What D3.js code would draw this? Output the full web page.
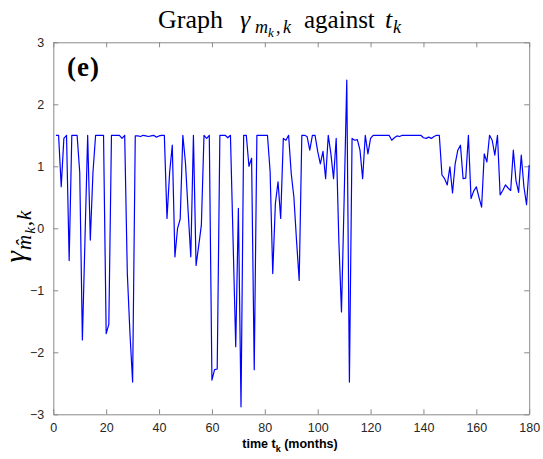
<!DOCTYPE html>
<html>
<head>
<meta charset="utf-8">
<script src="https://cdn.jsdelivr.net/npm/d3@7"></script>
<style>
  body { margin: 0; background: #fff; }
  .axis text { font-family: "Liberation Sans", Arial, sans-serif; font-size: 12.5px; fill: #262626; }
  .axis path, .axis line { stroke: #8a8a8a; }
</style>
</head>
<body>
<svg width="543" height="459"></svg>
<script>
// gamma_{m_k,k} for months t = 1..180
var gamma = [
  1.5, 1.5, 0.67, 1.45, 1.5, -0.52, 1.5, 1.5, 1.5, 0.9,
  -1.8, -0.15, 1.5, -0.19, 0.9, 1.5, 1.5, 1.5, 1.5, -1.7,
  -1.55, 1.5, 1.5, 1.5, 1.5, 1.45, 1.5, -0.73, -1.7, -2.48,
  1.49, 1.49, 1.48, 1.5, 1.49, 1.48, 1.49, 1.5, 1.47, 1.49,
  1.5, 1.5, 0.16, 0.9, 1.34, -0.46, 0.0, 0.15, 1.5, 1.05,
  0.27, -0.46, 1.5, -0.6, -0.28, 0.05, 1.5, 1.45, 1.5, -2.45,
  -2.28, -2.27, 1.5, 1.5, 1.5, 1.46, 1.5, -0.2, -1.91, 0.32,
  -2.88, 1.5, 1.5, 1.0, 1.13, -2.28, 1.5, 1.5, 1.5, 1.5,
  1.5, 0.92, -0.73, 0.4, 0.75, 0.16, 1.45, 1.42, 1.5, 0.88,
  0.5, -0.2, -0.84, 1.5, 1.5, 1.48, 1.26, 1.5, 1.5, 1.24,
  1.04, 1.24, 0.8, 1.5, 1.2, 0.8, 1.45, -0.2, -1.35, 0.46,
  2.39, -2.48, 1.45, 1.42, 1.43, 1.26, 0.8, 1.5, 1.2, 1.45,
  1.5, 1.5, 1.5, 1.5, 1.5, 1.5, 1.5, 1.42, 1.46, 1.49,
  1.48, 1.5, 1.5, 1.5, 1.5, 1.5, 1.5, 1.5, 1.5, 1.46,
  1.45, 1.47, 1.45, 1.48, 1.5, 1.5, 0.86, 0.8, 0.7, 0.99,
  0.57, 1.04, 1.26, 1.34, 0.8, 0.81, 1.5, 0.48, 0.6, 0.67,
  0.5, 0.34, 1.2, 1.07, 1.5, 1.42, 1.18, 1.5, 0.54, 0.61,
  0.7, 0.65, 0.61, 1.26, 0.77, 0.58, 1.18, 0.67, 0.38, 1.02
];
var months = gamma.map(function(d, i) { return i + 1; });
var xTicks = [0, 20, 40, 60, 80, 100, 120, 140, 160, 180];
var yTicks = [-3, -2, -1, 0, 1, 2, 3];

var svg = d3.select("svg");
var mLeft = 53.3, mRight = 529.2, mTop = 42.3, mBottom = 414.3;

var x = d3.scaleLinear().domain([0, 180]).range([mLeft, mRight]);
var y = d3.scaleLinear().domain([-3, 3]).range([mBottom, mTop]);

// axes, MATLAB style: ticks inward on all four sides
svg.append("g").attr("class", "axis")
    .attr("transform", "translate(0," + mBottom + ")")
    .call(d3.axisBottom(x).tickValues(xTicks).tickSizeInner(-5).tickSizeOuter(0).tickPadding(9));
svg.append("g").attr("class", "axis")
    .attr("transform", "translate(0," + mTop + ")")
    .call(d3.axisTop(x).tickValues(xTicks).tickSizeInner(-5).tickSizeOuter(0).tickFormat(""));
svg.append("g").attr("class", "axis")
    .attr("transform", "translate(" + mLeft + ",0)")
    .call(d3.axisLeft(y).tickValues(yTicks).tickFormat(d3.format("d")).tickSizeInner(-5).tickSizeOuter(0).tickPadding(9));
svg.append("g").attr("class", "axis")
    .attr("transform", "translate(" + mRight + ",0)")
    .call(d3.axisRight(y).tickValues(yTicks).tickSizeInner(-5).tickSizeOuter(0).tickFormat(""));

var line = d3.line()
    .x(function(d, i) { return x(months[i]); })
    .y(function(d) { return y(d); });

svg.append("path")
    .datum(gamma)
    .attr("d", line)
    .attr("fill", "none")
    .attr("stroke", "#0000ff")
    .attr("stroke-width", 1.2)
    .attr("stroke-linejoin", "round");

// title: Graph γ_{m_k,k} against t_k  (pieces placed one by one, LaTeX-like)
var title = svg.append("text")
    .style("font-family", "'Liberation Serif', 'DejaVu Serif', serif")
    .attr("fill", "#000");
var tparts = [
  ["Graph", 158, 28, 26, "normal"],
  ["γ", 240, 28, 26, "italic"],
  ["m", 255, 33, 18, "italic"],
  ["k", 268, 37, 13, "italic"],
  [",", 276, 33, 18, "normal"],
  ["k", 283, 33, 18, "italic"],
  ["against", 304, 28, 25, "normal"],
  ["t", 385, 28, 26, "italic"],
  ["k", 393, 33, 18, "italic"]
];
tparts.forEach(function(p) {
  title.append("tspan")
      .attr("x", p[1]).attr("y", p[2])
      .style("font-size", p[3] + "px")
      .style("font-style", p[4])
      .text(p[0]);
});

// y label
var ylab = svg.append("text")
    .attr("transform", "translate(25,236) rotate(-90)")
    .attr("text-anchor", "middle")
    .style("font-family", "'Liberation Serif', 'DejaVu Serif', serif")
    .style("font-style", "italic")
    .style("font-size", "29px")
    .style("letter-spacing", "1px")
    .attr("fill", "#000");
ylab.append("tspan").text("γ");
ylab.append("tspan").attr("dy", 6).style("font-size", "21px").text("m\u0302");
ylab.append("tspan").attr("dy", 4).style("font-size", "15px").text("k");
ylab.append("tspan").attr("dy", -4).style("font-size", "21px").style("font-style", "normal").text(",");
ylab.append("tspan").style("font-size", "21px").text("k");

// x label
var xlab = svg.append("text")
    .attr("x", 290).attr("y", 448)
    .attr("text-anchor", "middle")
    .style("font-family", "'Liberation Sans', Arial, sans-serif")
    .style("font-weight", "bold")
    .style("font-size", "12.5px")
    .attr("fill", "#000");
xlab.append("tspan").text("time t");
xlab.append("tspan").attr("dy", 4).style("font-size", "9px").text("k");
xlab.append("tspan").attr("dy", -4).text(" (months)");

// panel tag
svg.append("text")
    .attr("x", 67).attr("y", 76)
    .style("font-family", "'Liberation Serif', 'DejaVu Serif', serif")
    .style("font-weight", "bold")
    .style("font-size", "27px")
    .style("letter-spacing", "1px")
    .attr("fill", "#000")
    .text("(e)");
</script>
</body>
</html>
